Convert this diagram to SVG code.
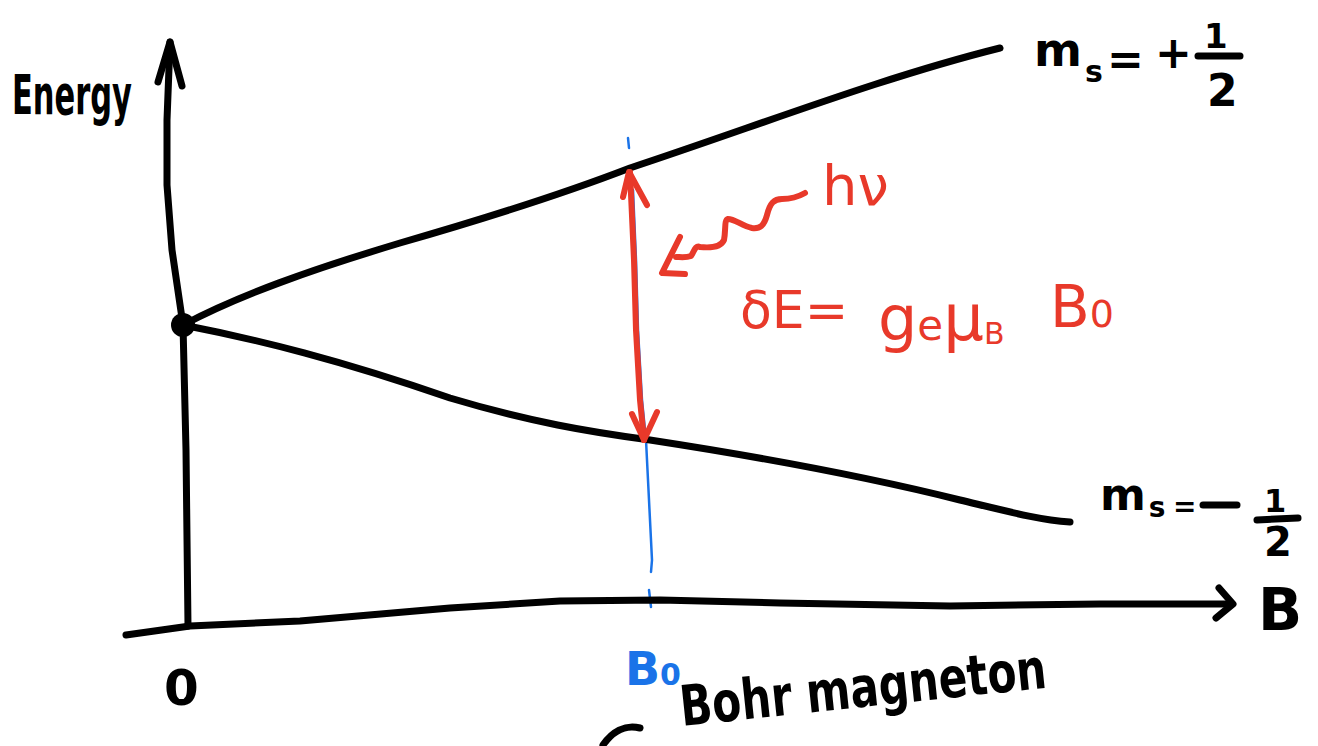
<svg xmlns="http://www.w3.org/2000/svg" width="1318" height="746" viewBox="0 0 1318 746">
<style>
.ink{fill:none;stroke:#000;stroke-width:7;stroke-linecap:round;stroke-linejoin:round}
.red{fill:none;stroke:#E8392A;stroke-width:6;stroke-linecap:round;stroke-linejoin:round}
.blue{fill:none;stroke:#1A73E8;stroke-width:2.5;stroke-linecap:round}
.tb{font-family:"DejaVu Sans",sans-serif;font-weight:bold;fill:#000}
.tr{font-family:"DejaVu Sans",sans-serif;fill:#E8392A}
.tbl{font-family:"DejaVu Sans",sans-serif;font-weight:bold;fill:#1A73E8}
</style>
<rect width="1318" height="746" fill="#fff"/>
<g id="connectors">
  <!-- blue B0 guide -->
  <path class="blue" d="M628,138 L629,148"/>
  <path class="blue" d="M633,190 L636,260 L638,330 L642,400 L646,440 L649,500 L652,560 L651,572"/>
  <path class="blue" d="M649,590 L651,607"/>
  <!-- energy axis -->
  <path class="ink" d="M188,626 L186,450 L183,325 L172,250 L167,185 L167,120 L170,42"/>
  <path class="ink" d="M158,82 L170,42 L182,86"/>
  <!-- B axis -->
  <path class="ink" d="M126,635 L190,626 L300,621 L450,608 L560,601 L660,600 L780,603 L950,606 L1100,604 L1232,604"/>
  <path class="ink" d="M1219,588 L1233,604 L1216,618"/>
  <!-- upper level -->
  <path class="ink" d="M183,325 C240,295 310,270 400,243 C480,220 560,195 630,168 C760,125 880,78 1000,48"/>
  <!-- lower level -->
  <path class="ink" d="M183,325 C260,340 340,360 450,398 C530,422 590,432 650,440 C780,460 880,480 960,500 C1010,512 1040,520 1070,522"/>
  <circle cx="183" cy="325" r="12" fill="#000"/>
  <!-- red double arrow -->
  <path class="red" d="M630,172 L634,260 L636,330 L640,400 L644,440"/>
  <path class="red" d="M623,197 L629,172 L647,205"/>
  <path class="red" d="M632,414 L644,440 L657,412"/>
  <!-- wavy photon arrow -->
  <path class="red" d="M805,193 C798,197 790,199 782,199 C774,199 770,203 767,215 C764,226 760,229 752,228 C742,226 735,219 728,219 C724,220 726,230 724,240 C721,247 710,248 700,247 C695,245 694,252 691,256 C686,258 680,257 676,257"/>
  <path class="red" d="M680,237 L662,273 L685,274"/>
  <!-- bottom fragment -->
  <path class="ink" d="M603,745 C612,732 625,724 640,728"/>
</g>
<g id="label-energy"><text class="tb" x="12" y="114" font-size="56" textLength="120" lengthAdjust="spacingAndGlyphs">Energy</text></g>
<g id="label-ms-plus">
  <text class="tb" x="1034" y="66" font-size="46">m<tspan font-size="30" dx="3" dy="16">s</tspan></text>
  <text class="tb" x="1107" y="74" font-size="44">=</text>
  <text class="tb" x="1155" y="68" font-size="44">+</text>
  <text class="tb" x="1204" y="48" font-size="34">1</text>
  <path class="ink" d="M1198,56 L1240,56"/>
  <text class="tb" x="1207" y="106" font-size="44">2</text>
</g>
<g id="label-ms-minus">
  <text class="tb" x="1100" y="510" font-size="44">m<tspan font-size="28" dx="3" dy="7">s</tspan></text>
  <text class="tb" x="1173" y="516" font-size="28">=</text>
  <path class="ink" d="M1203,505 L1237,505" stroke-width="9"/>
  <text class="tb" x="1264" y="512" font-size="32">1</text>
  <path class="ink" d="M1257,520 L1298,518"/>
  <text class="tb" x="1264" y="556" font-size="40">2</text>
</g>
<g id="label-B"><text class="tb" x="1258" y="630" font-size="58">B</text></g>
<g id="label-zero"><text class="tb" x="164" y="705" font-size="50">0</text></g>
<g id="label-B0"><text class="tbl" x="625" y="685" font-size="46">B<tspan font-size="30">0</tspan></text></g>
<g id="label-bohr"><text class="tb" x="682" y="726" font-size="56" transform="rotate(-6 682 726)" textLength="368" lengthAdjust="spacingAndGlyphs">Bohr magneton</text></g>
<g id="label-hv"><text class="tr" x="822" y="205" font-size="56">hν</text></g>
<g id="label-deltaE">
  <text class="tr" x="740" y="328" font-size="52">δE=</text>
  <text class="tr" x="878" y="340" font-size="62">g<tspan font-size="42">e</tspan><tspan font-size="64">μ</tspan><tspan font-size="30" dy="4">B</tspan></text>
  <text class="tr" x="1050" y="327" font-size="58">B<tspan font-size="38">0</tspan></text>
</g>
</svg>
